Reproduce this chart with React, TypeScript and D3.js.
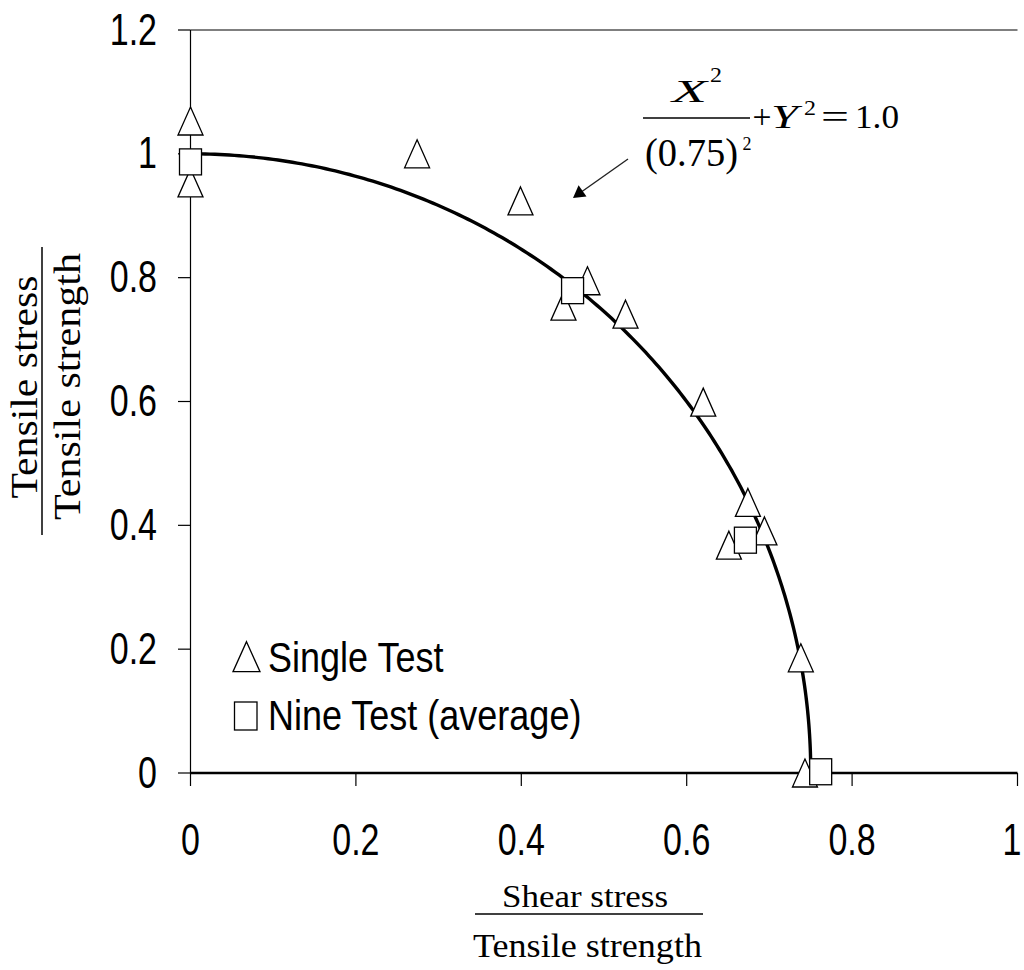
import React from "react";
import * as d3 from "d3";

// Single-test failure points (normalised shear, normalised tensile)
const singleShear = [0, 0, 0.274, 0.399, 0.451, 0.48, 0.526, 0.62, 0.674, 0.694, 0.651, 0.738, 0.743];
const singleTensile = [1.053, 0.953, 1.0, 0.924, 0.754, 0.795, 0.741, 0.599, 0.437, 0.391, 0.368, 0.186, 0.0];

// Nine-test averages
const nineShear = [0, 0.462, 0.671, 0.762];
const nineTensile = [0.987, 0.779, 0.376, 0.002];

// Axis ticks
const xTicks = [0, 0.2, 0.4, 0.6, 0.8, 1];
const yTicks = [0, 0.2, 0.4, 0.6, 0.8, 1, 1.2];

// Failure envelope: X^2 / a^2 + Y^2 = 1
const ellipseA = 0.75;

const W = 1024;
const H = 970;

const x = d3.scaleLinear().domain([0, 1]).range([190.5, 1017.5]);
const y = d3.scaleLinear().domain([0, 1.2]).range([773, 30]);

const fmt = (v: number) => (v === 0 ? "0" : v === 1 ? "1" : String(v));

const SANS = "'Liberation Sans', Arial, sans-serif";
const SERIF = "'Liberation Serif', 'Times New Roman', serif";

function triPath(cx: number, cy: number, w: number, h: number) {
  return `M${cx},${cy - h / 2}L${cx + w / 2},${cy + h / 2}L${cx - w / 2},${cy + h / 2}Z`;
}

export default function App() {
  const envelope = d3.range(0, 201).map((i) => {
    const t = (i / 200) * (Math.PI / 2);
    return [ellipseA * Math.sin(t), Math.cos(t)] as [number, number];
  });
  const line = d3
    .line<[number, number]>()
    .x((d) => x(d[0]))
    .y((d) => y(d[1]));

  const triW = 25;
  const triH = 28;
  const sqW = 22;
  const sqH = 26;

  return (
    <svg
      width={W}
      height={H}
      style={{ position: "absolute", left: 0, top: 0, background: "#fff" }}
    >
      <rect x={0} y={0} width={W} height={H} fill="#fff" />

      {/* axes */}
      <line x1={x(0)} x2={x(1)} y1={y(1.2)} y2={y(1.2)} stroke="#000" strokeWidth={1.2} />
      <line x1={x(0)} x2={x(0)} y1={y(1.2)} y2={y(0)} stroke="#000" strokeWidth={1.2} />
      {yTicks.map((t) => (
        <line key={"yt" + t} x1={x(0) - 12.5} x2={x(0)} y1={y(t)} y2={y(t)} stroke="#000" strokeWidth={1.2} />
      ))}
      {xTicks.map((t) => (
        <line key={"xt" + t} x1={x(t)} x2={x(t)} y1={y(0)} y2={y(0) + 13} stroke="#000" strokeWidth={1.2} />
      ))}
      <line x1={x(0)} x2={x(1)} y1={y(0)} y2={y(0)} stroke="#000" strokeWidth={2.5} />

      {/* tick labels */}
      {yTicks.map((t) => (
        <text
          key={"yl" + t}
          transform={`translate(157,${y(t) + 14.5}) scale(1,1.3)`}
          textAnchor="end"
          fontFamily={SANS}
          fontSize={34}
          fill="#000"
        >
          {fmt(t)}
        </text>
      ))}
      {xTicks.map((t) => (
        <text
          key={"xl" + t}
          transform={`translate(${Math.min(x(t), 1012)},855) scale(1,1.3)`}
          textAnchor="middle"
          fontFamily={SANS}
          fontSize={34}
          fill="#000"
        >
          {fmt(t)}
        </text>
      ))}

      {/* envelope curve */}
      <path d={line(envelope) || ""} fill="none" stroke="#000" strokeWidth={3.4} />

      {/* single test markers */}
      {singleShear.map((s, i) => (
        <path
          key={"s" + i}
          d={triPath(x(s), y(singleTensile[i]), triW, triH)}
          fill="#fff"
          stroke="#000"
          strokeWidth={1.3}
        />
      ))}
      {/* nine test averages */}
      {nineShear.map((s, i) => (
        <rect
          key={"n" + i}
          x={x(s) - sqW / 2}
          y={y(nineTensile[i]) - sqH / 2}
          width={sqW}
          height={sqH}
          fill="#fff"
          stroke="#000"
          strokeWidth={1.3}
        />
      ))}

      {/* legend */}
      <path d={triPath(246.5, 656.7, 27, 30)} fill="#fff" stroke="#000" strokeWidth={1.3} />
      <text transform="translate(268,671.7) scale(1,1.2)" fontFamily={SANS} fontSize={36} fill="#000">
        Single Test
      </text>
      <rect x={234.5} y={702} width={22.5} height={28} fill="#fff" stroke="#000" strokeWidth={1.3} />
      <text transform="translate(268,730) scale(1,1.2)" fontFamily={SANS} fontSize={36} fill="#000">
        Nine Test (average)
      </text>

      {/* envelope equation */}
      <g fontFamily={SERIF} fill="#000">
        <text x={672} y={102} fontSize={32} fontStyle="italic" textLength={35} lengthAdjust="spacingAndGlyphs">X</text>
        <text x={710} y={82} fontSize={21} textLength={12} lengthAdjust="spacingAndGlyphs">2</text>
        <line x1={643} x2={750} y1={118} y2={118} stroke="#000" strokeWidth={1.5} />
        <text x={645} y={166} fontSize={41} textLength={93} lengthAdjust="spacingAndGlyphs">(0.75)</text>
        <text x={742.5} y={150} fontSize={19} textLength={9} lengthAdjust="spacingAndGlyphs">2</text>
        <text x={752.5} y={128} fontSize={34} textLength={19} lengthAdjust="spacingAndGlyphs">+</text>
        <text x={771} y={128} fontSize={33} fontStyle="italic" textLength={27} lengthAdjust="spacingAndGlyphs">Y</text>
        <text x={804} y={115} fontSize={21} textLength={12} lengthAdjust="spacingAndGlyphs">2</text>
        <text x={821} y={128} fontSize={34} textLength={28} lengthAdjust="spacingAndGlyphs">=</text>
        <text x={855} y={128} fontSize={33} textLength={44} lengthAdjust="spacingAndGlyphs">1.0</text>
      </g>

      {/* arrow pointing to the envelope */}
      <line x1={628} y1={159} x2={582} y2={191.5} stroke="#222" strokeWidth={1.4} />
      <path d="M573,198 L578.6,185.3 L586.5,196.5 Z" fill="#000" />

      {/* x axis title */}
      <g fontFamily={SERIF} fill="#000" textAnchor="middle">
        <text x={585} y={907} fontSize={31} textLength={166} lengthAdjust="spacingAndGlyphs">Shear stress</text>
        <line x1={475} x2={703} y1={914} y2={914} stroke="#000" strokeWidth={1.5} />
        <text x={587.5} y={957} fontSize={33} textLength={229} lengthAdjust="spacingAndGlyphs">Tensile strength</text>
      </g>

      {/* y axis title */}
      <g fontFamily={SERIF} fill="#000" textAnchor="middle">
        <text transform="translate(37,387) rotate(-90)" fontSize={38} textLength={223} lengthAdjust="spacingAndGlyphs">
          Tensile stress
        </text>
        <line x1={42} x2={42} y1={247} y2={535} stroke="#000" strokeWidth={1.5} />
        <text transform="translate(80,386.5) rotate(-90)" fontSize={38} textLength={267} lengthAdjust="spacingAndGlyphs">
          Tensile strength
        </text>
      </g>
    </svg>
  );
}
